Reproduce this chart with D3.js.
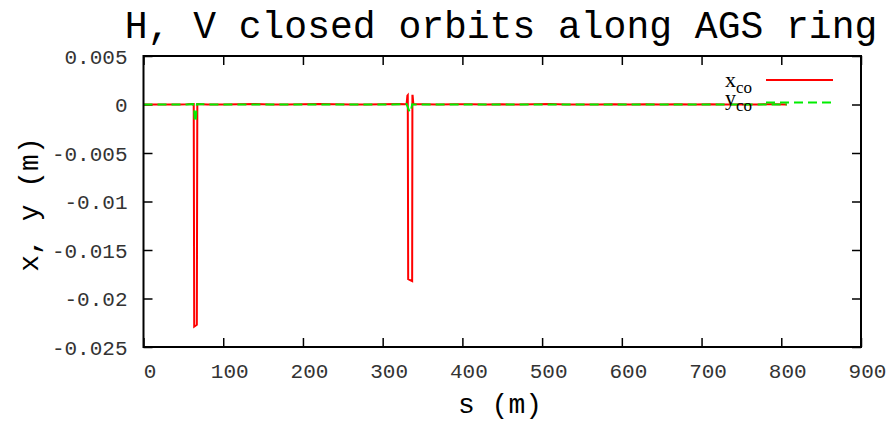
<!DOCTYPE html>
<html>
<head>
<meta charset="utf-8">
<script src="https://cdn.jsdelivr.net/npm/d3@7"></script>
<style>
  body { margin: 0; background: #fff; }
  svg { display: block; }
  .tick text { font-family: "Liberation Mono", "DejaVu Sans Mono", monospace; font-size: 21px; fill: #333; }
  .tick line { stroke: #000; stroke-width: 1.5; }
</style>
</head>
<body>
<svg width="891" height="421"></svg>
<script>
// closed orbit data along the ring, s in metres
var sX = [0, 15, 30, 45, 55, 63, 63.6, 66.9, 67.5, 80, 100, 120, 140, 160, 180, 200, 220, 240, 260, 280, 300, 320, 330, 331, 331.5, 332, 337, 337.3, 337.6, 338.5, 350, 370, 390, 410, 430, 450, 470, 490, 510, 530, 550, 570, 590, 610, 630, 650, 670, 690, 710, 730, 750, 770, 790, 807];
var xCo = [0, 0.00001, -0.00001, 0.00001, 0.00002, 0.00005, -0.0229, -0.0227, 0.00005, 0.00001, -0.00001, 0.00002, 0.00004, 0.00001, -0.00001, 0.00002, 0.00004, 0.00002, -0.00001, 0.00001, 0.00002, 0.00004, 0.00002, 0.0009, 0.00095, -0.0180, -0.0182, 0.0009, 0.0009, 0.00002, 0.00002, -0.00001, 0.00002, 0.00003, 0.00001, 0.00002, -0.00001, 0.00002, 0.00004, 0.00001, -0.00001, 0.00001, 0.00003, 0.00001, 0.00002, -0.00001, 0.00002, 0.00001, 0.00003, 0.00001, -0.00001, 0.00001, 0.00002, 0];

var sY = [0, 20, 40, 55, 62, 63.5, 64.5, 65.5, 67, 80, 100, 130, 160, 190, 220, 250, 280, 310, 330, 334, 335.5, 337, 340, 370, 400, 430, 460, 490, 520, 550, 580, 610, 640, 670, 700, 730, 760, 790, 807];
var yCo = [0, 0.00001, -0.00001, 0.00001, 0.00005, -0.0005, -0.0018, -0.0016, 0.00003, 0.00001, 0.00001, -0.00001, 0.00001, 0.00001, -0.00001, 0.00001, 0.00001, 0.00001, 0.00005, -0.0008, -0.0006, 0.00003, 0.00001, -0.00001, 0.00001, 0.00001, -0.00001, 0.00001, 0.00001, 0.00001, -0.00001, 0.00001, 0.00001, 0.00001, -0.00001, 0.00001, 0.00001, 0.00001, 0];

var xTicks = [0, 100, 200, 300, 400, 500, 600, 700, 800, 900];
var yTicks = [0.005, 0, -0.005, -0.01, -0.015, -0.02, -0.025];
var yTickLabels = ["0.005", "0", "-0.005", "-0.01", "-0.015", "-0.02", "-0.025"];

var plotL = 143.5, plotR = 861, plotT = 56, plotB = 347;
var svg = d3.select("svg");

var x = d3.scaleLinear().domain([0, 900]).range([plotL, plotR]);
var y = d3.scaleLinear().domain([-0.025, 0.005]).range([plotB, plotT]);

// axes with inward ticks, mirrored on top and right
svg.append("g")
    .attr("class", "xaxis")
    .attr("transform", "translate(0," + plotB + ")")
    .call(d3.axisBottom(x).tickValues(xTicks).tickSizeInner(-9).tickSizeOuter(0).tickPadding(24).tickFormat(d3.format("d")))
    .call(g => g.select(".domain").remove());

svg.append("g")
    .attr("transform", "translate(0," + plotT + ")")
    .call(d3.axisTop(x).tickValues(xTicks).tickSizeInner(-9).tickSizeOuter(0).tickFormat(""))
    .call(g => g.select(".domain").remove());

svg.append("g")
    .attr("class", "yaxis")
    .attr("transform", "translate(" + plotL + ",0)")
    .call(d3.axisLeft(y).tickValues(yTicks).tickSizeInner(-9).tickSizeOuter(0).tickPadding(16)
        .tickFormat((d, i) => yTickLabels[i]))
    .call(g => g.select(".domain").remove());

svg.append("g")
    .attr("transform", "translate(" + plotR + ",0)")
    .call(d3.axisRight(y).tickValues(yTicks).tickSizeInner(-9).tickSizeOuter(0).tickFormat(""))
    .call(g => g.select(".domain").remove());

svg.selectAll(".yaxis .tick text").attr("dy", "0.35em");
svg.selectAll(".xaxis .tick text").attr("dy", null).attr("y", 31).attr("dx", 6);

var line = d3.line().x(d => x(d[0])).y(d => y(d[1]));

svg.append("path")
    .datum(sX.map((s, i) => [s, xCo[i]]))
    .attr("d", line)
    .attr("fill", "none")
    .attr("stroke", "#ff0000")
    .attr("stroke-width", 2);

svg.append("path")
    .datum(sY.map((s, i) => [s, yCo[i]]))
    .attr("d", line)
    .attr("fill", "none")
    .attr("stroke", "#00ee00")
    .attr("stroke-width", 2)
    .attr("stroke-dasharray", "9,5");

// frame
svg.append("rect")
    .attr("x", plotL).attr("y", plotT)
    .attr("width", plotR - plotL).attr("height", plotB - plotT)
    .attr("fill", "none").attr("stroke", "#000").attr("stroke-width", 2);

// legend
var legend = [
  { name: "x", sub: "co", color: "#ff0000", dash: null, ty: 87, ly: 80 },
  { name: "y", sub: "co", color: "#00ee00", dash: "9,5", ty: 105, ly: 102.5 }
];
legend.forEach(function(d) {
  var t = svg.append("text")
      .attr("x", 725).attr("y", d.ty)
      .style("font-family", "'Liberation Serif', 'Times New Roman', serif")
      .style("font-size", "22px")
      .attr("fill", "#000");
  t.append("tspan").text(d.name);
  t.append("tspan").attr("dy", 6).style("font-size", "17px").text(d.sub);
  svg.append("line")
      .attr("x1", 766).attr("x2", 833).attr("y1", d.ly).attr("y2", d.ly)
      .attr("stroke", d.color).attr("stroke-width", 2)
      .attr("stroke-dasharray", d.dash);
});

// titles
svg.append("text")
    .attr("x", 501).attr("y", 38)
    .attr("text-anchor", "middle")
    .style("font-family", "'Liberation Mono', monospace")
    .style("font-size", "38px")
    .text("H, V closed orbits along AGS ring");

svg.append("text")
    .attr("x", 500).attr("y", 413)
    .attr("text-anchor", "middle")
    .style("font-family", "'Liberation Mono', monospace")
    .style("font-size", "28px")
    .text("s (m)");

svg.append("text")
    .attr("transform", "translate(38," + ((plotT + plotB) / 2 + 3) + ") rotate(-90)")
    .attr("text-anchor", "middle")
    .style("font-family", "'Liberation Mono', monospace")
    .style("font-size", "28px")
    .text("x, y (m)");
</script>
</body>
</html>
